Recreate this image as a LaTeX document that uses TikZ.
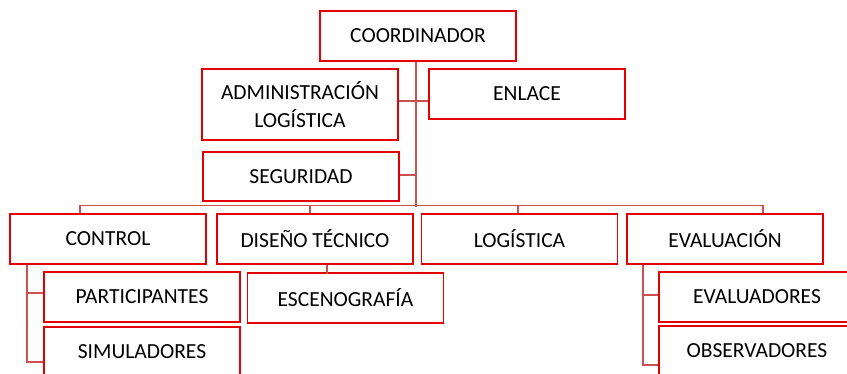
\documentclass[tikz,border=0pt]{standalone}
\usepackage{fontspec}
\setmainfont{Carlito}
\definecolor{boxred}{RGB}{228,0,0}
\definecolor{linered}{RGB}{205,80,80}
\begin{document}
\begin{tikzpicture}[x=1pt,y=-1pt,
  box/.style={draw=boxred,line width=1.2pt,minimum width=196pt,minimum height=50pt,inner sep=0pt,align=center,font=\fontsize{21.5}{28}\selectfont},
  conn/.style={draw=linered,line width=1.1pt}]
\useasboundingbox (0,0) rectangle (847,373);
\node[box] (coord) at (418,36) {COORDINADOR};
\node[box,minimum height=71pt] (admin) at (300,104.5) {ADMINISTRACIÓN\\LOGÍSTICA};
\node[box] (enlace) at (527,94) {ENLACE};
\node[box,minimum height=49pt] (seg) at (301,176.5) {SEGURIDAD};
\node[box] (control) at (108,239) {CONTROL};
\node[box] (diseno) at (315,239) {DISEÑO TÉCNICO};
\node[box] (logistica) at (519.5,239) {LOGÍSTICA};
\node[box] (evaluacion) at (725,239) {EVALUACIÓN};
\node[box] (part) at (142,297) {PARTICIPANTES};
\node[box] (sim) at (142,352) {SIMULADORES};
\node[box] (esc) at (345.5,298) {ESCENOGRAFÍA};
\node[box] (evaluadores) at (757,297) {EVALUADORES};
\node[box] (observ) at (757,351) {OBSERVADORES};
% trunk
\draw[conn] ([xshift=-2pt]coord.south) -- ++(0,145);
\draw[conn] ([yshift=3.5pt]admin.east) -- ([yshift=-7pt]enlace.west);
\draw[conn] ([yshift=1.5pt]seg.east) -- ++(17,0);
% bus
\draw[conn] ([xshift=-28pt]control.north) -- ++(0,-8) -| ([xshift=38pt]evaluacion.north);
\draw[conn] ([xshift=-5pt]diseno.north) -- ++(0,-8);
\draw[conn] ([xshift=-1.5pt]logistica.north) -- ++(0,-8);
% control children
\draw[conn] ([xshift=-81pt]control.south) |- ([yshift=-10pt]sim.west);
\draw[conn] ([yshift=4pt]part.west) -- ++(-17,0);
% diseno child
\draw[conn] ([xshift=12pt]diseno.south) -- ++(0,9);
% evaluacion children
\draw[conn] ([xshift=-82pt]evaluacion.south) |- ([yshift=-14pt]observ.west);
\draw[conn] ([yshift=2pt]evaluadores.west) -- ++(-16,0);
\end{tikzpicture}
\end{document}
